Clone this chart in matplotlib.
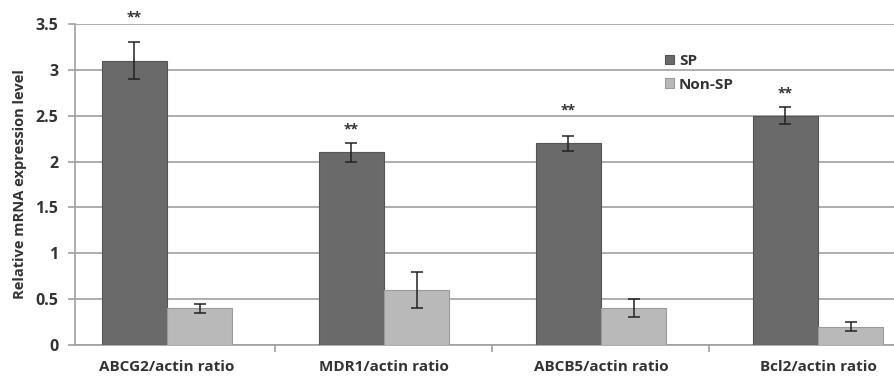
import numpy as np
import matplotlib.pyplot as plt

categories = ["ABCG2/actin ratio", "MDR1/actin ratio", "ABCB5/actin ratio", "Bcl2/actin ratio"]
sp_vals = [3.1, 2.1, 2.2, 2.5]
sp_err = [0.2, 0.1, 0.08, 0.09]
nonsp_vals = [0.4, 0.6, 0.4, 0.2]
nonsp_err = [0.05, 0.2, 0.1, 0.05]
star_y = [3.57, 2.35, 2.56, 2.74]

plt.rcParams['font.family'] = ['Open Sans', 'DejaVu Sans']
txt = '#333333'
grid_c = '#a0a0a0'

fig = plt.figure(figsize=(8.95, 3.78), dpi=100)
ax = fig.add_axes([75/895, 33/378, 820/895, 321/378])

x = np.arange(len(categories))
w = 0.30
ax.bar(x - w/2, sp_vals, w, color='#6a6a6a', edgecolor='#555555', linewidth=0.8,
       label='SP', zorder=3)
ax.bar(x + w/2, nonsp_vals, w, color='#b9b9b9', edgecolor='#9a9a9a', linewidth=0.8,
       label='Non-SP', zorder=3)
ax.errorbar(x - w/2, sp_vals, yerr=sp_err, fmt='none', ecolor='#222222',
            elinewidth=1.1, capsize=4, capthick=1.1, zorder=4)
ax.errorbar(x + w/2, nonsp_vals, yerr=nonsp_err, fmt='none', ecolor='#222222',
            elinewidth=1.1, capsize=4, capthick=1.1, zorder=4)

for xi, yi in zip(x, star_y):
    ax.text(xi - w/2, yi, '**', ha='center', va='center', fontsize=10,
            fontweight='bold', color=txt, clip_on=False)

ax.set_xlim(-0.424, 3.355)
ax.set_ylim(0, 3.5)
ax.set_yticks(np.arange(0, 3.51, 0.5))
ax.set_yticklabels(['0', '0.5', '1', '1.5', '2', '2.5', '3', '3.5'])
ax.yaxis.grid(True, color=grid_c, linewidth=1.2, zorder=0)
ax.set_axisbelow(True)

ax.set_xticks(x)
ax.set_xticklabels(categories)
ax.set_xticks([0.5, 1.5, 2.5], minor=True)
ax.tick_params(axis='x', which='major', length=0, pad=11, labelsize=11,
               labelcolor=txt)
ax.tick_params(axis='x', which='minor', length=5, color=grid_c, width=1.2)
ax.tick_params(axis='y', length=5, color=grid_c, width=1.2, labelsize=11.5,
               labelcolor=txt, pad=7)
for lab in ax.get_xticklabels() + ax.get_yticklabels():
    lab.set_fontweight('bold')

for s in ['top', 'right']:
    ax.spines[s].set_visible(False)
for s in ['left', 'bottom']:
    ax.spines[s].set_color(grid_c)
    ax.spines[s].set_linewidth(1.2)

ax.set_ylabel('Relative mRNA expression level', fontsize=10.5, fontweight='bold',
              color=txt, labelpad=6)

leg = ax.legend(loc='upper left', bbox_to_anchor=(0.703, 0.95), frameon=False,
                handlelength=0.6, handleheight=0.6, handletextpad=0.3,
                labelspacing=0.65, prop={'weight': 'bold', 'size': 11})
for t in leg.get_texts():
    t.set_color(txt)

fig.savefig('out.png', dpi=100)
